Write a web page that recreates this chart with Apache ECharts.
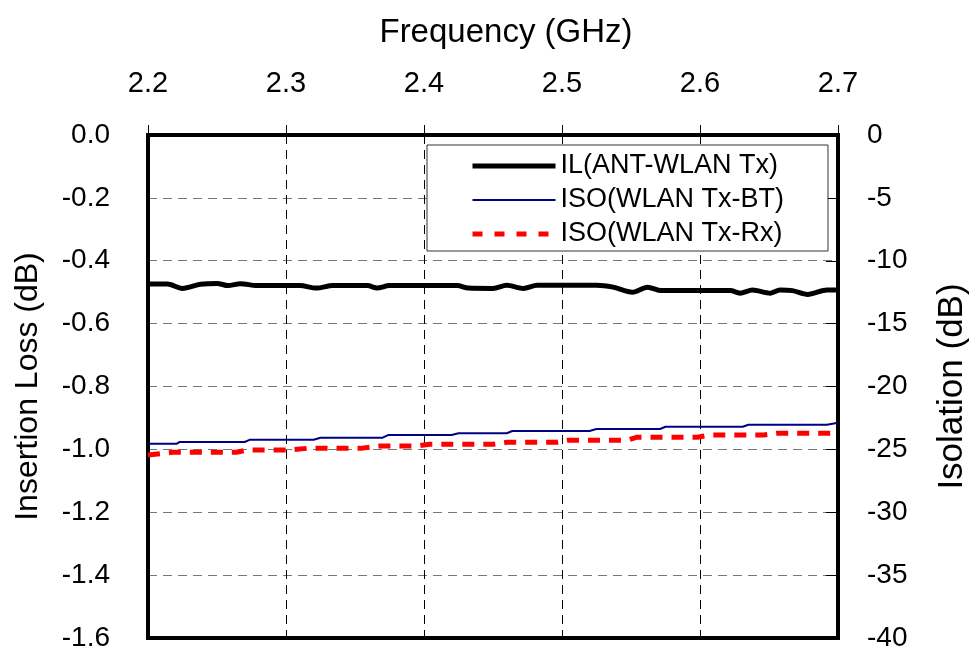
<!DOCTYPE html>
<html>
<head>
<meta charset="utf-8">
<script src="https://cdn.jsdelivr.net/npm/echarts@6/dist/echarts.min.js"></script>
<style>
html,body{margin:0;padding:0;background:#fff;}
#chart{width:969px;height:654px;}
</style>
</head>
<body>
<div id="chart"></div>
<script>
// ---- data ----
var freqTicks = ['2.2','2.3','2.4','2.5','2.6','2.7'];
var seriesNames = ['IL(ANT-WLAN Tx)', 'ISO(WLAN Tx-BT)', 'ISO(WLAN Tx-Rx)'];

var ilFreq = [2.200,2.214,2.225,2.238,2.250,2.258,2.267,2.279,2.310,2.322,2.334,2.359,2.366,2.375,2.424,2.432,2.450,2.460,2.472,2.482,2.525,2.537,2.551,2.562,2.572,2.622,2.629,2.638,2.651,2.658,2.667,2.678,2.692,2.700];
var ilLoss = [-0.474,-0.474,-0.488,-0.475,-0.472,-0.479,-0.473,-0.479,-0.479,-0.487,-0.479,-0.479,-0.487,-0.479,-0.479,-0.487,-0.488,-0.478,-0.488,-0.478,-0.478,-0.484,-0.500,-0.484,-0.495,-0.495,-0.503,-0.493,-0.503,-0.493,-0.495,-0.507,-0.493,-0.493];

var btFreq = [2.200,2.221,2.223,2.270,2.274,2.320,2.325,2.370,2.374,2.420,2.425,2.460,2.464,2.520,2.525,2.571,2.575,2.631,2.635,2.692,2.700];
var btIso  = [-24.55,-24.55,-24.41,-24.41,-24.23,-24.23,-24.07,-24.07,-23.86,-23.86,-23.72,-23.72,-23.54,-23.54,-23.38,-23.38,-23.20,-23.20,-23.04,-23.04,-22.88];

var rxFreq = [2.200,2.218,2.264,2.272,2.301,2.315,2.354,2.368,2.395,2.404,2.450,2.460,2.496,2.504,2.547,2.554,2.598,2.607,2.646,2.656,2.700];
var rxIso  = [-25.45,-25.23,-25.23,-25.05,-25.05,-24.92,-24.92,-24.73,-24.73,-24.60,-24.60,-24.44,-24.44,-24.28,-24.28,-24.04,-24.04,-23.86,-23.86,-23.72,-23.72];

function pairs(xs, ys){ return xs.map(function(x,i){ return [x, ys[i]]; }); }

var FONT = '"Liberation Sans", Arial, sans-serif';
var chart = echarts.init(document.getElementById('chart'));
chart.setOption({
  animation: false,
  backgroundColor: '#fff',
  textStyle: { fontFamily: FONT, color: '#000' },
  grid: { left: 148, right: 131, top: 135, bottom: 16, containLabel: false, outerBoundsMode: 'none',
          show: true, borderColor: '#000', borderWidth: 4, backgroundColor: 'transparent' },
  legend: {
    left: 427, top: 145, orient: 'vertical',
    backgroundColor: '#fff', borderColor: '#333', borderWidth: 1,
    padding: [6, 44, 2, 43],
    itemWidth: 83, itemHeight: 14, itemGap: 4,
    itemStyle: { color: 'rgba(0,0,0,0)', borderWidth: 0, opacity: 0 },
    textStyle: { fontFamily: FONT, fontSize: 27, color: '#000', lineHeight: 30 },
    data: [
      { name: seriesNames[0], lineStyle: { color: '#000', width: 5, type: 'solid' } },
      { name: seriesNames[1], lineStyle: { color: '#000080', width: 2, type: 'solid' } },
      { name: seriesNames[2], lineStyle: { color: '#ff0000', width: 5, type: [10,12] } }
    ]
  },
  xAxis: {
    type: 'value', position: 'top', min: 2.2, max: 2.7, interval: 0.1,
    name: 'Frequency (GHz)', nameLocation: 'middle', nameGap: 86,
    nameTextStyle: { fontFamily: FONT, fontSize: 33, color: '#000', padding: [0,0,0,26] },
    axisLine: { show: true, lineStyle: { color: '#000', width: 4 } },
    axisTick: { show: true, inside: false, length: 10, lineStyle: { color: '#000', width: 1 } },
    axisLabel: { fontFamily: FONT, fontSize: 29, color: '#000', margin: 37,
      formatter: function(v){ return freqTicks[Math.round((v-2.2)*10)]; } },
    splitLine: { show: true, showMinLine: false, showMaxLine: false, lineStyle: { color: '#000', width: 1, type: [9,6] } }
  },
  yAxis: [{
    type: 'value', position: 'left', min: -1.6, max: 0, interval: 0.2,
    name: 'Insertion Loss (dB)', nameLocation: 'middle', nameGap: 104,
    nameTextStyle: { fontFamily: FONT, fontSize: 32, color: '#000' },
    axisLine: { show: true, lineStyle: { color: '#000', width: 4 } },
    axisTick: { show: false },
    axisLabel: { fontFamily: FONT, fontSize: 28, color: '#000', margin: 38,
      formatter: function(v){ return v.toFixed(1); } },
    splitLine: { show: true, showMinLine: false, showMaxLine: false, lineStyle: { color: '#777', width: 1, type: [9,6] } }
  },{
    type: 'value', position: 'right', min: -40, max: 0, interval: 5,
    name: 'Isolation (dB)', nameLocation: 'middle', nameGap: 97,
    nameTextStyle: { fontFamily: FONT, fontSize: 35, color: '#000' },
    axisLine: { show: true, lineStyle: { color: '#000', width: 4 } },
    axisTick: { show: true, inside: true, length: 12, lineStyle: { color: '#000', width: 1 } },
    axisLabel: { fontFamily: FONT, fontSize: 28, color: '#000', margin: 29,
      formatter: function(v){ return String(v); } },
    splitLine: { show: false }
  }],
  series: [{
    name: seriesNames[0], type: 'line', yAxisIndex: 0, showSymbol: false, symbol: 'none', smooth: 0.3,
    lineStyle: { color: '#000', width: 5 }, itemStyle: { color: '#000' },
    data: pairs(ilFreq, ilLoss), z: 5
  },{
    name: seriesNames[1], type: 'line', yAxisIndex: 1, showSymbol: false, symbol: 'none',
    lineStyle: { color: '#000080', width: 2 }, itemStyle: { color: '#000080' },
    data: pairs(btFreq, btIso), z: 4
  },{
    name: seriesNames[2], type: 'line', yAxisIndex: 1, showSymbol: false, symbol: 'none',
    lineStyle: { color: '#ff0000', width: 5, type: [12,9] }, itemStyle: { color: '#ff0000' },
    data: pairs(rxFreq, rxIso), z: 3
  }]
});
</script>
</body>
</html>
